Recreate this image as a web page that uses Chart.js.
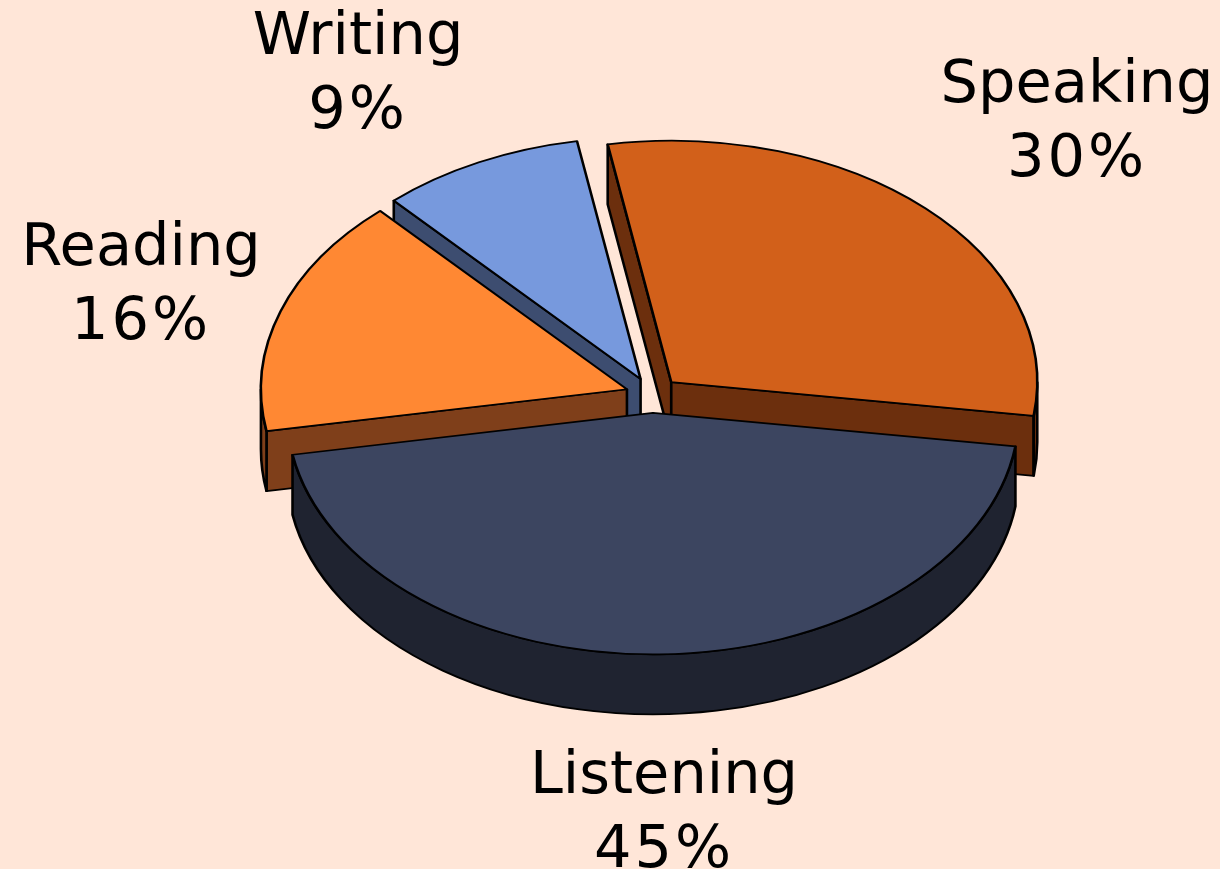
<!DOCTYPE html>
<html>
<head>
<meta charset="utf-8">
<style>
  html, body { margin: 0; padding: 0; background: #FFE6D8; overflow: hidden; }
  #wrap { position: relative; width: 1220px; height: 869px; }
</style>
<script src="https://cdn.jsdelivr.net/npm/chart.js@4/dist/chart.umd.min.js"></script>
</head>
<body>
<div id="wrap"><canvas id="chart" width="1220" height="869"></canvas></div>
<script>
const categories = ["Speaking", "Listening", "Reading", "Writing"];
const shares = [30, 45, 16, 9];

const TOP_COLORS = ["#D2601A", "#3C4560", "#FF8833", "#7799DD"];
const SIDE_COLORS = ["#6C2F0D", "#1F2330", "#7F3F1A", "#3D4D70"];
const EDGE = "#000";
const SIDE_ORDER = [3, 2, 0, 1]; // back to front

const SQUASH = 0.66;
const DEPTH = 60;
const EXPLODE = 27;
const LABEL_CENTERS = [[1077, 87], [664, 778], [141, 250], [358, 39]];
const LINE_GAP = 74;

function squash(ctx, chart) {
  const cx = (chart.chartArea.left + chart.chartArea.right) / 2;
  const cy = (chart.chartArea.top + chart.chartArea.bottom) / 2;
  ctx.translate(cx, cy);
  ctx.scale(1, SQUASH);
  ctx.translate(-cx, -cy);
}

function drawSides(ctx, arc, color) {
  const { x, y, startAngle: s, endAngle: e, outerRadius: r } = arc;
  const d = DEPTH / SQUASH;
  ctx.fillStyle = color;
  ctx.strokeStyle = EDGE;
  ctx.lineWidth = 2.6;
  ctx.lineJoin = "round";

  const finish = () => { ctx.closePath(); ctx.fill(); ctx.stroke(); };

  // cut faces, only the ones turned towards the viewer
  if (Math.cos(s) < 0) {
    ctx.beginPath();
    ctx.moveTo(x, y);
    ctx.lineTo(x + Math.cos(s) * r, y + Math.sin(s) * r);
    ctx.lineTo(x + Math.cos(s) * r, y + Math.sin(s) * r + d);
    ctx.lineTo(x, y + d);
    finish();
  }
  if (Math.cos(e) > 0) {
    ctx.beginPath();
    ctx.moveTo(x, y);
    ctx.lineTo(x + Math.cos(e) * r, y + Math.sin(e) * r);
    ctx.lineTo(x + Math.cos(e) * r, y + Math.sin(e) * r + d);
    ctx.lineTo(x, y + d);
    finish();
  }

  // outer rim, the part of the arc on the lower half
  const TAU = Math.PI * 2;
  for (let k = -1; k <= 1; k++) {
    const a = Math.max(s, k * TAU);
    const b = Math.min(e, k * TAU + Math.PI);
    if (b > a) {
      ctx.beginPath();
      ctx.arc(x, y, r, a, b);
      ctx.arc(x, y + d, r, b, a, true);
      finish();
    }
  }
}

const pie3d = {
  id: "pie3d",
  afterDatasetsUpdate(chart) {
    // move the arcs out ourselves: the offset option also inflates the radius
    chart.getDatasetMeta(0).data.forEach((arc) => {
      const mid = (arc.startAngle + arc.endAngle) / 2;
      arc.x += Math.cos(mid) * EXPLODE;
      arc.y += Math.sin(mid) * EXPLODE;
    });
  },
  beforeDatasetDraw(chart) {
    const ctx = chart.ctx;
    const arcs = chart.getDatasetMeta(0).data;
    ctx.save();
    squash(ctx, chart);
    SIDE_ORDER.forEach((i) => drawSides(ctx, arcs[i], SIDE_COLORS[i]));
  },
  afterDatasetDraw(chart) {
    chart.ctx.restore();
  },
  afterDatasetsDraw(chart) {
    const ctx = chart.ctx;
    ctx.save();
    ctx.font = '59px "DejaVu Sans"';
    ctx.fillStyle = "#000";
    ctx.textAlign = "center";
    ctx.textBaseline = "middle";
    categories.forEach((name, i) => {
      const [x, y] = LABEL_CENTERS[i];
      ctx.letterSpacing = "0px";
      ctx.fillText(name, x, y);
      ctx.letterSpacing = "3px"; // the percent lines run wider than the names
      ctx.fillText(shares[i] + "%", x, y + LINE_GAP);
    });
    ctx.restore();
  },
};

new Chart(document.getElementById("chart"), {
  type: "pie",
  data: {
    labels: categories,
    datasets: [{
      data: shares,
      backgroundColor: TOP_COLORS,
      borderColor: EDGE,
      borderWidth: 2.6,
      borderJoinStyle: "round",
      clip: false,
    }],
  },
  options: {
    responsive: false,
    animation: false,
    rotation: -10,
    radius: 366,
    layout: { padding: { left: 85, bottom: 79 } },
    plugins: { legend: { display: false }, tooltip: { enabled: false } },
  },
  plugins: [pie3d],
});
</script>
</body>
</html>
